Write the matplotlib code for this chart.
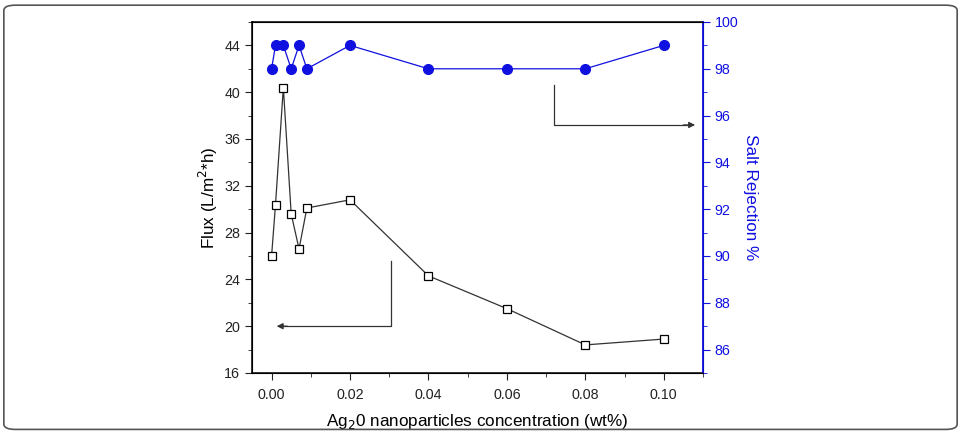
import matplotlib.pyplot as plt
from matplotlib.patches import FancyBboxPatch
from matplotlib.ticker import MultipleLocator

plt.rcParams['font.family'] = ['Liberation Sans', 'DejaVu Sans']

# data
conc = [0.0, 0.001, 0.003, 0.005, 0.007, 0.009, 0.02, 0.04, 0.06, 0.08, 0.10]
flux = [26.0, 30.4, 40.4, 29.6, 26.6, 30.1, 30.8, 24.3, 21.5, 18.4, 18.9]
rejection = [98, 99, 99, 98, 99, 98, 99, 98, 98, 98, 99]
xticks = [0.00, 0.02, 0.04, 0.06, 0.08, 0.10]

blue = '#1010e0'

fig = plt.figure(figsize=(9.61, 4.32), dpi=100)
ax = fig.add_axes([0.2622, 0.1366, 0.4693, 0.8125])
ax2 = ax.twinx()

ax.plot(conc, flux, color='#333333', lw=0.9, marker='s', ms=6,
        mfc='white', mec='black', mew=0.9, zorder=3)
ax2.plot(conc, rejection, color=blue, lw=0.9, marker='o', ms=7,
         mfc=blue, mec=blue, zorder=3)

ax.set_xlim(-0.005, 0.11)
ax.set_ylim(16, 46)
ax2.set_ylim(85, 100)

ax.set_xticks(xticks)
ax.set_xticklabels(['%.2f' % v for v in xticks])
ax.xaxis.set_minor_locator(MultipleLocator(0.01))
ax.set_yticks(range(16, 45, 4))
ax.yaxis.set_minor_locator(MultipleLocator(2))
ax2.set_yticks(range(86, 101, 2))
ax2.yaxis.set_minor_locator(MultipleLocator(1))

ax.tick_params(which='both', direction='out', labelsize=10.3, colors='#222222')
ax.tick_params(which='major', length=5)
ax.tick_params(which='minor', length=3)
ax.tick_params(axis='x', pad=6)
ax2.tick_params(which='both', direction='out', labelsize=10.3, colors=blue)
ax2.tick_params(which='major', length=5)
ax2.tick_params(which='minor', length=3)

ax2.spines['right'].set_color(blue)
ax2.spines['right'].set_linewidth(1.3)
for s in ['left', 'bottom', 'top']:
    ax.spines[s].set_linewidth(1.1)

ax.set_xlabel('Ag$_2$0 nanoparticles concentration (wt%)', fontsize=12.3, labelpad=7)
ax.set_ylabel('Flux (L/m$^2$*h)', fontsize=12.3, labelpad=3)
ax2.set_ylabel('Salt Rejection %', fontsize=12.3, color=blue, rotation=270, labelpad=14)

# pointer arrows to each axis
ax.plot([0.0305, 0.0305, 0.0025], [25.6, 20.0, 20.0], color='#333333', lw=0.9)
ax.annotate('', xy=(0.0013, 20.0), xytext=(0.004, 20.0),
            arrowprops=dict(arrowstyle='-|>', color='#333333', lw=0.9,
                            mutation_scale=9, shrinkA=0, shrinkB=0))
ax2.plot([0.072, 0.072, 0.106], [97.3, 95.6, 95.6], color='#333333', lw=0.9)
ax2.annotate('', xy=(0.108, 95.6), xytext=(0.105, 95.6),
             arrowprops=dict(arrowstyle='-|>', color='#333333', lw=0.9,
                             mutation_scale=9, shrinkA=0, shrinkB=0))

# rounded frame around the whole figure
frame = FancyBboxPatch((0.004, 0.006), 0.992, 0.982, boxstyle='round,pad=0,rounding_size=0.012',
                       transform=fig.transFigure, fill=False, ec='#555555', lw=1.2)
fig.patches.append(frame)

fig.savefig('out.png', dpi=100)
